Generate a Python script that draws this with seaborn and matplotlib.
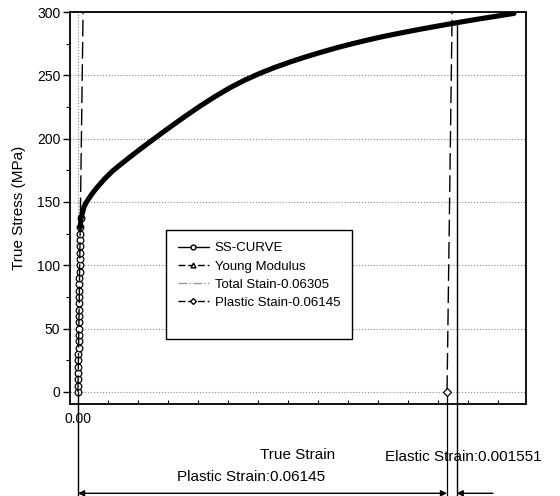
import matplotlib
matplotlib.use("Agg")
import matplotlib.pyplot as plt
from matplotlib.lines import Line2D
import numpy as np
import pandas as pd
import seaborn as sns

# ---- data ---------------------------------------------------------------
# stress-strain curve, elastic part
elastic_strain = [0.00000, 0.00001, 0.00003, 0.00004, 0.00006, 0.00007, 0.00008,
                  0.00010, 0.00011, 0.00013, 0.00014, 0.00015, 0.00017, 0.00018,
                  0.00020, 0.00021, 0.00022, 0.00024, 0.00025, 0.00027, 0.00028,
                  0.00029, 0.00031, 0.00032, 0.00034, 0.00036, 0.00040]
elastic_stress = [0, 5, 10, 15, 20, 25, 30, 35, 40, 45, 50, 55, 60, 65, 70, 75,
                  80, 85, 90, 95, 100, 105, 110, 115, 120, 125, 130]

# stress-strain curve, plastic (hardening) part
plastic_strain = [0.0005, 0.0010, 0.0013, 0.0017, 0.0022, 0.0028, 0.0035, 0.0045,
                  0.0057, 0.0070, 0.0082, 0.0095, 0.0110, 0.0125, 0.0143, 0.0162,
                  0.0182, 0.0203, 0.0228, 0.0253, 0.0278, 0.0303, 0.0328, 0.0353,
                  0.0378, 0.0403, 0.0428, 0.0453, 0.0478, 0.0503, 0.0520, 0.0536,
                  0.0561, 0.0586, 0.0605, 0.0623, 0.0646, 0.0669, 0.0697, 0.0726]
plastic_stress = [137, 146, 149, 152, 155.5, 159.3, 163.2, 168.6, 174.2, 179.3,
                  183.8, 188.6, 194.0, 199.3, 205.6, 212.1, 218.8, 225.6, 233.2,
                  240.2, 246.3, 251.6, 256.3, 260.5, 264.4, 268.0, 271.4, 274.5,
                  277.4, 280.1, 281.8, 283.3, 285.6, 287.8, 289.4, 290.9, 292.8,
                  294.6, 296.7, 298.9]

# Young's modulus lines (through origin and through the plastic strain point)
young_strain = [0.0, 0.00085]
young_offset_strain = [0.06145, 0.06230]
young_stress = [0, 300]

total_strain = 0.06305
plastic_strain_value = 0.06145
elastic_strain_value = 0.001551
total_strain_stress = 292

legend_labels = ["SS-CURVE", "Young Modulus", "Total Stain-0.06305",
                 "Plastic Stain-0.06145"]
y_ticks = [0, 50, 100, 150, 200, 250, 300]

# ---- style --------------------------------------------------------------
sns.set_theme(style="ticks")
plt.rcParams["font.family"] = ["Liberation Sans", "DejaVu Sans"]
plt.rcParams["axes.edgecolor"] = "black"
plt.rcParams["text.color"] = "black"
plt.rcParams["axes.labelcolor"] = "black"
plt.rcParams["xtick.color"] = "black"
plt.rcParams["ytick.color"] = "black"

fig = plt.figure(figsize=(5.6, 4.96), dpi=100)
ax = fig.add_axes([70 / 560, 1 - 404 / 496, 456 / 560, 392 / 496])

ss = pd.DataFrame({
    "strain": elastic_strain + plastic_strain,
    "stress": elastic_stress + plastic_stress,
})
n_el = len(elastic_strain)

# thin trace with hollow markers along the elastic rise
sns.lineplot(data=ss.iloc[:n_el + 1], x="strain", y="stress", sort=False,
             estimator=None, color="black", lw=1.0, marker="o", markersize=4.8,
             markerfacecolor="white", markeredgecolor="black",
             markeredgewidth=0.9, ax=ax, legend=False)
# heavy trace over the hardening region
sns.lineplot(data=ss.iloc[n_el - 1:], x="strain", y="stress", sort=False,
             estimator=None, color="black", lw=3.7, ax=ax, legend=False,
             solid_capstyle="round", solid_joinstyle="round")

# Young's modulus lines
ax.plot(young_strain, young_stress, color="black", lw=1.0, dashes=(12, 4))
ax.plot(young_offset_strain, young_stress, color="black", lw=1.0, dashes=(12, 4))

# total strain line (runs below the axes to the dimension arrows)
ax.plot([total_strain, total_strain], [-85, total_strain_stress], color="black",
        lw=1.0, clip_on=False)
# plastic strain line + marker
ax.plot([plastic_strain_value, plastic_strain_value], [-85, 0], color="black",
        lw=0.9, clip_on=False)
ax.plot([plastic_strain_value], [0], marker="D", ms=4, mfc="white", mec="black",
        mew=0.9, ls="none")
# origin extension line
ax.plot([0, 0], [-85, 0], color="black", lw=1.0, clip_on=False)

# dimension arrows
ax.annotate("", xy=(plastic_strain_value, -80), xytext=(0, -80),
            arrowprops=dict(arrowstyle="<|-|>", mutation_scale=9, lw=1.0,
                            color="black", shrinkA=0, shrinkB=0),
            annotation_clip=False)
ax.annotate("", xy=(total_strain, -80), xytext=(0.0691, -80),
            arrowprops=dict(arrowstyle="-|>", mutation_scale=9, lw=1.0,
                            color="black", shrinkA=0, shrinkB=0),
            annotation_clip=False)
ax.text(0.0288, -67, f"Plastic Strain:{plastic_strain_value:.5f}", fontsize=11,
        ha="center", va="center", clip_on=False)
ax.text(0.0641, -51.3, f"Elastic Strain:{elastic_strain_value:.6f}", fontsize=11,
        ha="center", va="center", clip_on=False)

# ---- axes ---------------------------------------------------------------
ax.set_xlim(-0.00133, 0.0746)
ax.set_ylim(-9.5, 300)
ax.set_yticks(y_ticks)
ax.set_yticks(np.arange(25, 300, 50), minor=True)
ax.set_xticks([0.0])
ax.set_xticklabels(["0.00"])
ax.set_xticks(np.arange(0.005, 0.0746, 0.005), minor=True)
ax.tick_params(axis="y", which="major", direction="out", length=5, width=1,
               labelsize=10, pad=2)
ax.tick_params(axis="y", which="minor", direction="out", length=3, width=0.8)
ax.tick_params(axis="x", which="major", direction="out", length=0, labelsize=10,
               pad=6)
ax.tick_params(axis="x", which="minor", direction="in", length=3, width=0.8)
ax.grid(True, which="major", color="#888888", lw=0.8, ls=":")
for side in ["left", "right", "top", "bottom"]:
    ax.spines[side].set_visible(True)
    ax.spines[side].set_linewidth(1.3)
    ax.spines[side].set_color("black")

ax.set_xlabel("True Strain", fontsize=11)
ax.set_ylabel("True Stress (MPa)", fontsize=11)
ax.xaxis.set_label_coords(0.5, -0.113)
ax.yaxis.set_label_coords(-0.097, 0.5)

# ---- legend -------------------------------------------------------------
handles = [
    Line2D([], [], color="black", lw=1.0, marker="o", ms=3.5, mfc="white",
           mec="black"),
    Line2D([], [], color="black", lw=1.0, dashes=(5, 2), marker="^", ms=3.5,
           mfc="white", mec="black"),
    Line2D([], [], color="#999999", lw=1.0, ls="-."),
    Line2D([], [], color="black", lw=1.0, dashes=(5, 2), marker="D", ms=3,
           mfc="white", mec="black"),
    Line2D([], [], color="none", lw=0),
]
leg = ax.legend(handles, legend_labels + [" "], loc="lower left",
                bbox_to_anchor=(0.21, 0.166), borderaxespad=0, fontsize=9.5,
                frameon=True, fancybox=False, edgecolor="black",
                handlelength=2.4, handletextpad=0.4, labelspacing=0.45,
                borderpad=0.9, numpoints=1)
leg.get_frame().set_linewidth(1.0)
leg.get_frame().set_alpha(1)

fig.savefig("out.png", dpi=100)
